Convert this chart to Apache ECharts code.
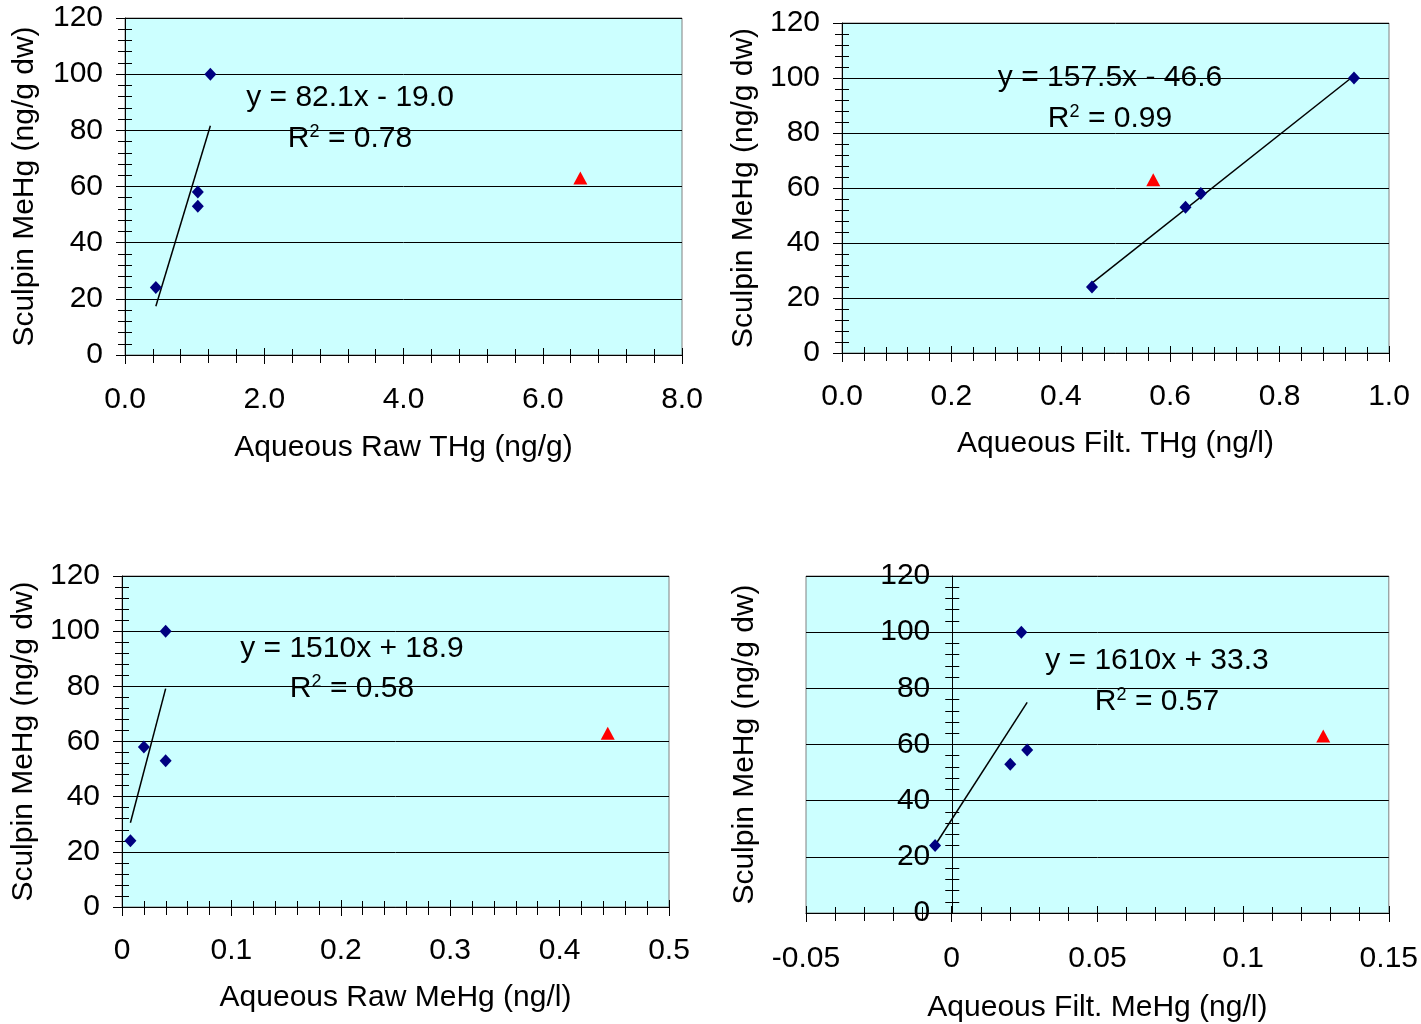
<!DOCTYPE html>
<html><head><meta charset="utf-8">
<script src="https://cdn.jsdelivr.net/npm/echarts@6/dist/echarts.min.js"></script>
<style>html,body{margin:0;padding:0;background:#fff}#c{width:1421px;height:1024px}</style>
</head><body><div id="c"></div>
<script>
// ---- data ----
const sculpinMeHg = [24, 53, 58, 100];          // four sites (diamonds)
const outlierSculpinMeHg = 63;                   // red triangle
const aqRawTHg   = [0.443, 1.046, 1.046, 1.226];
const aqFiltTHg  = [0.457, 0.628, 0.656, 0.936];
const aqRawMeHg  = [0.0077, 0.0399, 0.020, 0.0399];
const aqFiltMeHg = [-0.0057, 0.0201, 0.0259, 0.0239];
const outlierX   = [6.54, 0.569, 0.444, 0.1275];
const xTitles = ['Aqueous Raw THg (ng/g)', 'Aqueous Filt. THg (ng/l)', 'Aqueous Raw MeHg (ng/l)', 'Aqueous Filt. MeHg (ng/l)'];
const yTitle = 'Sculpin MeHg (ng/g dw)';
const xMin  = [0, 0, 0, -0.05];
const xMax  = [8, 1, 0.5, 0.15];
const xStep = [2, 0.2, 0.1, 0.05];
const xDecimals = [1, 1, null, null];
const yMin = 0, yMax = 120, yStep = 20;
const slopes = [82.1, 157.5, 1510, 1610];
const intercepts = [-19.0, -46.6, 18.9, 33.3];
const eqLabels = ['y = 82.1x - 19.0', 'y = 157.5x - 46.6', 'y = 1510x + 18.9', 'y = 1610x + 33.3'];
const r2Labels = ['0.78', '0.99', '0.58', '0.57'];
const xSets = [aqRawTHg, aqFiltTHg, aqRawMeHg, aqFiltMeHg];

// ---- layout ----
const FONT = "'Liberation Sans', Arial, sans-serif";
const FS = 30;
const grids = [
  {left: 125, top: 18, width: 557, height: 337},
  {left: 842, top: 23, width: 547, height: 330},
  {left: 122, top: 576, width: 547, height: 331},
  {left: 806, top: 576, width: 585, height: 337}
];
const xLabelMargin = [30, 29, 29, 31];
const xNameGap = [78, 76, 76, 80];
const yNameGap = [85, 83, 83, 193];
const eqPos = [[350, 98, 139], [1110, 78, 119], [352, 649, 689], [1157, 661, 702]];

const xAxes = [], yAxes = [], series = [], graphics = [];
grids.forEach((g, i) => {
  const base = {type: 'value', gridIndex: i};
  const fmtX = v => xDecimals[i] != null ? v.toFixed(xDecimals[i]) : String(+v.toFixed(4));
  // y axis sits where x = 0 (inside the plot when xMin < 0)
  const yOffset = -g.width * (Math.max(0, 0 - xMin[i]) / (xMax[i] - xMin[i]));
  xAxes.push(Object.assign({}, base, {
    min: xMin[i], max: xMax[i], interval: xStep[i], position: 'bottom',
    name: xTitles[i], nameLocation: 'middle', nameGap: xNameGap[i],
    nameTextStyle: {fontSize: FS, color: '#000', fontFamily: FONT},
    axisLine: {show: true, onZero: false, lineStyle: {color: '#000', width: 1}},
    axisTick: {show: true, length: 9, lineStyle: {color: '#000'}},
    minorTick: {show: true, splitNumber: 5, length: 8, lineStyle: {color: '#000'}},
    axisLabel: {fontSize: FS, color: '#000', fontFamily: FONT, margin: xLabelMargin[i], formatter: fmtX, hideOverlap: false},
    splitLine: {show: false}
  }));
  xAxes.push(Object.assign({}, base, {
    min: xMin[i], max: xMax[i], interval: xStep[i], position: 'bottom',
    axisLine: {show: false, onZero: false},
    axisTick: {show: true, inside: true, length: 7, lineStyle: {color: '#000'}},
    minorTick: {show: true, splitNumber: 5, length: 6, lineStyle: {color: '#000'}},
    axisLabel: {show: false}, splitLine: {show: false}
  }));
  yAxes.push(Object.assign({}, base, {
    min: yMin, max: yMax, interval: yStep, position: 'left', offset: yOffset,
    name: yTitle, nameLocation: 'middle', nameGap: yNameGap[i],
    nameTextStyle: {fontSize: FS, color: '#000', fontFamily: FONT},
    axisLine: {show: true, onZero: false, lineStyle: {color: '#000', width: 1}},
    axisTick: {show: true, length: 9, lineStyle: {color: '#000'}},
    minorTick: {show: true, splitNumber: 5, length: 7, lineStyle: {color: '#000'}},
    axisLabel: {fontSize: FS, color: '#000', fontFamily: FONT, margin: 22},
    splitLine: {show: true, lineStyle: {color: '#000', width: 1}}
  }));
  yAxes.push(Object.assign({}, base, {
    min: yMin, max: yMax, interval: yStep, position: 'left', offset: yOffset,
    axisLine: {show: false, onZero: false},
    axisTick: {show: true, inside: true, length: 9, lineStyle: {color: '#000'}},
    minorTick: {show: true, splitNumber: 5, length: 7, lineStyle: {color: '#000'}},
    axisLabel: {show: false}, splitLine: {show: false}
  }));

  const xs = xSets[i];
  const x0 = Math.min(...xs), x1 = Math.max(...xs);
  series.push({
    type: 'line', xAxisIndex: 2 * i, yAxisIndex: 2 * i, showSymbol: false, symbol: 'none',
    data: [[x0, slopes[i] * x0 + intercepts[i]], [x1, slopes[i] * x1 + intercepts[i]]],
    lineStyle: {color: '#000', width: 1.5}, z: 3, silent: true
  });
  series.push({
    type: 'scatter', xAxisIndex: 2 * i, yAxisIndex: 2 * i, symbol: 'diamond', symbolSize: [12, 13],
    itemStyle: {color: '#000080', opacity: 1}, z: 4,
    data: xs.map((x, k) => [x, sculpinMeHg[k]])
  });
  series.push({
    type: 'scatter', xAxisIndex: 2 * i, yAxisIndex: 2 * i, symbol: 'triangle', symbolSize: [14, 13],
    itemStyle: {color: '#FF0000', opacity: 1}, z: 4,
    data: [[outlierX[i], outlierSculpinMeHg]]
  });

  const p = eqPos[i];
  graphics.push({type: 'text', x: p[0], y: p[1], z: 10,
    style: {text: eqLabels[i], fill: '#000', font: FS + 'px ' + FONT, align: 'center', verticalAlign: 'middle'}});
  graphics.push({type: 'text', x: p[0], y: p[2], z: 10,
    style: {text: 'R{s|2} = ' + r2Labels[i], fill: '#000', font: FS + 'px ' + FONT, align: 'center', verticalAlign: 'middle',
      rich: {s: {fontSize: 18, fontFamily: FONT, verticalAlign: 'top', fill: '#000', padding: [0, 0, 13, 0]}}}});
});

const chart = echarts.init(document.getElementById('c'), null, {renderer: 'canvas'});
chart.setOption({
  animation: false,
  backgroundColor: '#fff',
  grid: grids.map(g => Object.assign({show: true, backgroundColor: '#CCFFFF', borderColor: '#808080', borderWidth: 1, containLabel: false}, g)),
  xAxis: xAxes, yAxis: yAxes, series: series, graphic: graphics
});
</script></body></html>
